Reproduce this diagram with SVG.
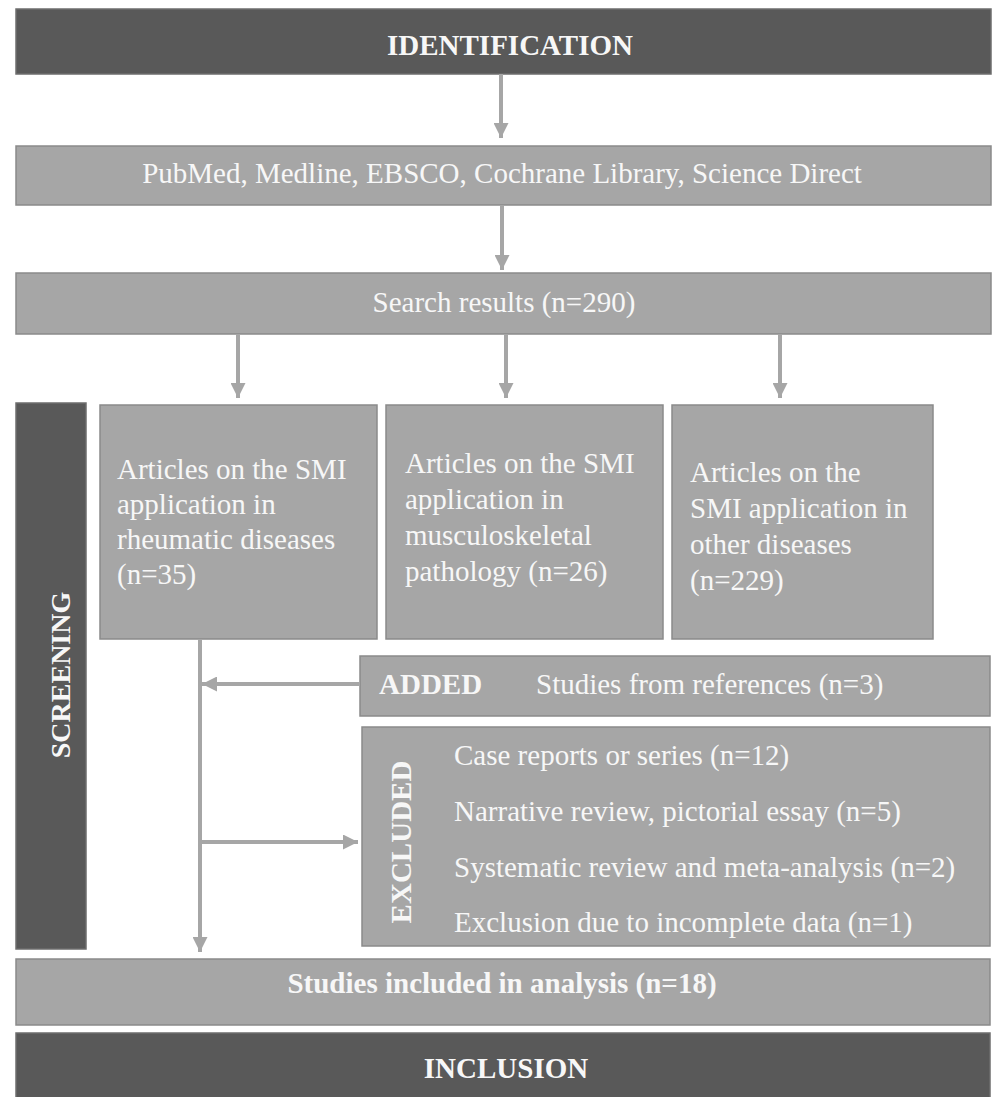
<svg xmlns="http://www.w3.org/2000/svg" width="992" height="1097" viewBox="0 0 992 1097">
<defs>
<style>
.dark{fill:#595959;stroke:#6e6e6e;stroke-width:1.5}
.light{fill:#a6a6a6;stroke:#8a8a8a;stroke-width:1.5}
.t{font-family:"Liberation Serif","Times New Roman",serif;font-size:29px;fill:#f7f7f7}
.b{font-weight:bold}
.c{text-anchor:middle}
.conn{stroke:#a6a6a6;stroke-width:4;fill:none;marker-end:url(#ah)}
.line{stroke:#a6a6a6;stroke-width:4;fill:none}
</style>
<marker id="ah" viewBox="0 0 10 10" refX="10" refY="5" markerUnits="userSpaceOnUse" markerWidth="16" markerHeight="15" orient="auto">
<path d="M0,0 L10,5 L0,10 z" fill="#a6a6a6"/>
</marker>
</defs>
<rect width="992" height="1097" fill="#ffffff"/>

<g id="identification">
<rect class="dark" x="16" y="9" width="975" height="65"/>
<text class="t b c" x="510" y="55">IDENTIFICATION</text>
</g>

<g id="databases">
<rect class="light" x="16" y="146" width="975" height="59"/>
<text class="t c" x="502" y="183">PubMed, Medline, EBSCO, Cochrane Library, Science Direct</text>
</g>

<g id="search">
<rect class="light" x="16" y="273" width="975" height="61"/>
<text class="t c" x="504" y="312">Search results (n=290)</text>
</g>

<g id="screening">
<rect class="dark" x="16" y="403" width="70" height="546"/>
<text class="t b c" transform="translate(70,675) rotate(-90)" x="0" y="0" style="font-size:28px">SCREENING</text>
</g>

<g id="rheumatic">
<rect class="light" x="100" y="405" width="277" height="234"/>
<text class="t" x="117" y="479">Articles on the SMI</text>
<text class="t" x="117" y="514">application in</text>
<text class="t" x="117" y="549">rheumatic diseases</text>
<text class="t" x="117" y="584">(n=35)</text>
</g>

<g id="musculoskeletal">
<rect class="light" x="386" y="405" width="277" height="234"/>
<text class="t" x="405" y="473">Articles on the SMI</text>
<text class="t" x="405" y="509">application in</text>
<text class="t" x="405" y="545">musculoskeletal</text>
<text class="t" x="405" y="581">pathology (n=26)</text>
</g>

<g id="other">
<rect class="light" x="672" y="405" width="261" height="234"/>
<text class="t" x="690" y="482">Articles on the</text>
<text class="t" x="690" y="518">SMI application in</text>
<text class="t" x="690" y="554">other diseases</text>
<text class="t" x="690" y="590">(n=229)</text>
</g>

<g id="added">
<rect class="light" x="360" y="656" width="630" height="60"/>
<text class="t b" x="379" y="694">ADDED</text>
<text class="t" x="536" y="694">Studies from references (n=3)</text>
</g>

<g id="excluded">
<rect class="light" x="362" y="727" width="628" height="219"/>
<text class="t b c" transform="translate(411,842) rotate(-90)" x="0" y="0">EXCLUDED</text>
<text class="t" x="454" y="765">Case reports or series (n=12)</text>
<text class="t" x="454" y="821">Narrative review, pictorial essay (n=5)</text>
<text class="t" x="454" y="877">Systematic review and meta-analysis (n=2)</text>
<text class="t" x="454" y="932">Exclusion due to incomplete data (n=1)</text>
</g>

<g id="included">
<rect class="light" x="16" y="959" width="974" height="66"/>
<text class="t b c" x="502" y="993">Studies included in analysis (n=18)</text>
</g>

<g id="inclusion">
<rect class="dark" x="16" y="1033" width="974" height="70"/>
<text class="t b c" x="506" y="1078">INCLUSION</text>
</g>

<g id="connectors">
<line class="conn" x1="501" y1="74" x2="501" y2="138"/>
<line class="conn" x1="502" y1="205" x2="502" y2="270"/>
<line class="conn" x1="238" y1="334" x2="238" y2="398"/>
<line class="conn" x1="506" y1="334" x2="506" y2="398"/>
<line class="conn" x1="780" y1="334" x2="780" y2="398"/>
<line class="conn" x1="200" y1="639" x2="200" y2="952"/>
<line class="conn" x1="360" y1="684" x2="202" y2="684"/>
<line class="conn" x1="200" y1="842" x2="358" y2="842"/>
</g>
</svg>
